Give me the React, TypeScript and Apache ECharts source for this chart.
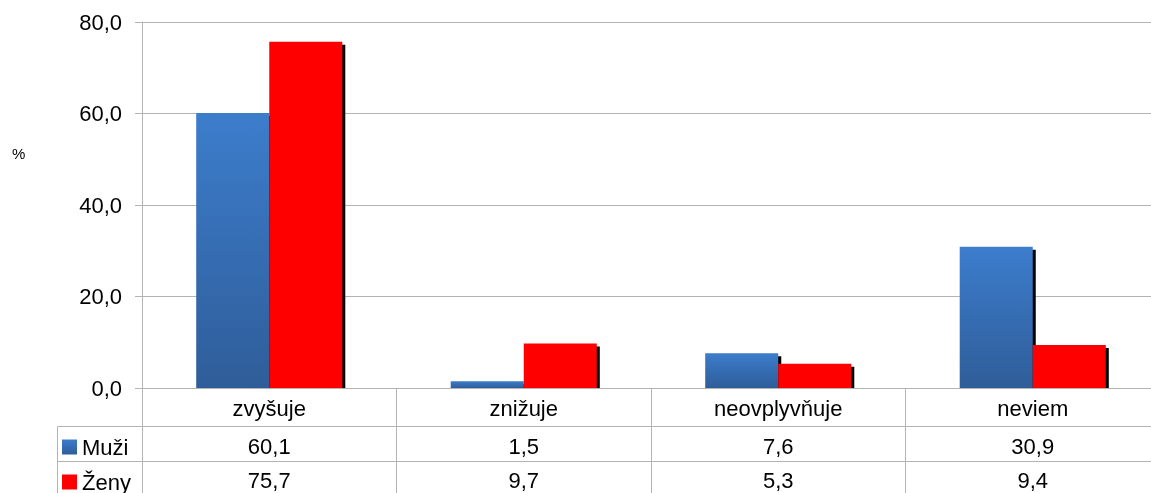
import React, { useEffect, useRef } from "react";
import * as echarts from "echarts";

const categories = ["zvyšuje", "znižuje", "neovplyvňuje", "neviem"];
const seriesNames = ["Muži", "Ženy"];
const muzi = [60.1, 1.5, 7.6, 30.9];
const zeny = [75.7, 9.7, 5.3, 9.4];
const yTicks = { min: 0, max: 80, interval: 20 };

const FONT = "'Liberation Sans', Arial, sans-serif";
const GRAY = "#b3b3b3";
const CAT_GAP = 0.426;

const fmt = (v: number) => v.toFixed(1).replace(".", ",");

export default function App() {
  const ref = useRef<HTMLDivElement>(null);
  useEffect(() => {
    if (!ref.current) return;
    const chart = echarts.init(ref.current, null, { renderer: "svg" });
    const blue = new echarts.graphic.LinearGradient(0, 0, 0, 1, [
      { offset: 0, color: "#3c7dcc" },
      { offset: 1, color: "#2f5d99" },
    ]);
    const shadowData = categories.map((_, i) => [i, muzi[i], zeny[i]]);
    const tableAxis = (vals: number[], offset: number, margin: number) => ({
      type: "category",
      data: vals.map(fmt),
      position: "bottom",
      offset,
      gridIndex: 0,
      axisLine: { show: true, lineStyle: { color: GRAY, width: 1 } },
      axisTick: { show: false },
      axisLabel: { color: "#000", fontSize: 22, fontFamily: FONT, margin, interval: 0 },
      splitLine: { show: false },
    });
    const legendFor = (name: string, top: number) => ({
      data: [name],
      orient: "vertical",
      left: 62,
      top,
      padding: 0,
      itemWidth: 15,
      itemHeight: 15,
      icon: "rect",
      textStyle: { color: "#000", fontSize: 22, fontFamily: FONT, lineHeight: 22 },
    });
    chart.setOption({
      animation: false,
      textStyle: { fontFamily: FONT },
      grid: { left: 142, right: -9, top: 22, bottom: 105, containLabel: false, outerBoundsMode: "none" },
      legend: [legendFor(seriesNames[0], 436), legendFor(seriesNames[1], 471)],
      xAxis: [
        {
          type: "category",
          data: categories,
          position: "bottom",
          axisLine: { show: true, lineStyle: { color: GRAY, width: 1 } },
          axisTick: { show: true, length: 110, interval: 0, alignWithLabel: false, lineStyle: { color: GRAY } },
          axisLabel: { color: "#000", fontSize: 22, fontFamily: FONT, margin: 9, interval: 0 },
          splitLine: { show: false },
        },
        tableAxis(muzi, 38, 9),
        tableAxis(zeny, 73, 8),
      ],
      yAxis: {
        type: "value",
        min: yTicks.min,
        max: yTicks.max,
        interval: yTicks.interval,
        axisLine: { show: true, lineStyle: { color: GRAY, width: 1 } },
        axisTick: { show: true, length: 7, lineStyle: { color: GRAY } },
        axisLabel: { color: "#000", fontSize: 22, fontFamily: FONT, margin: 20, formatter: (v: number) => fmt(v) },
        splitLine: { show: true, lineStyle: { color: GRAY, width: 1 } },
      },
      series: [
        {
          type: "custom",
          xAxisIndex: 0,
          yAxisIndex: 0,
          z: 1,
          silent: true,
          encode: { x: 0, y: [1, 2] },
          data: shadowData,
          renderItem: (params: any, api: any) => {
            const i = api.value(0);
            const base = api.coord([i, 0]);
            const band = api.size([1, 0])[0];
            const w = (band * (1 - CAT_GAP)) / 2;
            const tb = api.coord([i, api.value(1)])[1];
            const tr = api.coord([i, api.value(2)])[1];
            const mk = (x: number, top: number) => ({
              type: "rect",
              shape: { x: x + 3, y: top + 3, width: w, height: Math.max(0, base[1] - top - 3) },
              style: { fill: "#000" },
            });
            return { type: "group", children: [mk(base[0] - w, tb), mk(base[0], tr)] };
          },
        },
        {
          name: seriesNames[0],
          type: "bar",
          data: muzi,
          barGap: "0%",
          barCategoryGap: CAT_GAP * 100 + "%",
          itemStyle: { color: blue },
          z: 2,
        },
        {
          name: seriesNames[1],
          type: "bar",
          data: zeny,
          barGap: "0%",
          barCategoryGap: CAT_GAP * 100 + "%",
          itemStyle: { color: "#ff0000" },
          z: 2,
        },
      ],
      graphic: [
        { type: "text", left: 12, top: 146, style: { text: "%", fontSize: 15, fontFamily: FONT, fill: "#000" } },
        { type: "line", shape: { x1: 57.5, y1: 426.5, x2: 142, y2: 426.5 }, style: { stroke: GRAY, lineWidth: 1 } },
        { type: "line", shape: { x1: 57.5, y1: 461.5, x2: 142, y2: 461.5 }, style: { stroke: GRAY, lineWidth: 1 } },
        { type: "line", shape: { x1: 57.5, y1: 426.5, x2: 57.5, y2: 493 }, style: { stroke: GRAY, lineWidth: 1 } },
      ],
    });
    return () => chart.dispose();
  }, []);
  return <div ref={ref} style={{ position: "fixed", left: 0, top: 0, width: 1151, height: 493 }} />;
}
